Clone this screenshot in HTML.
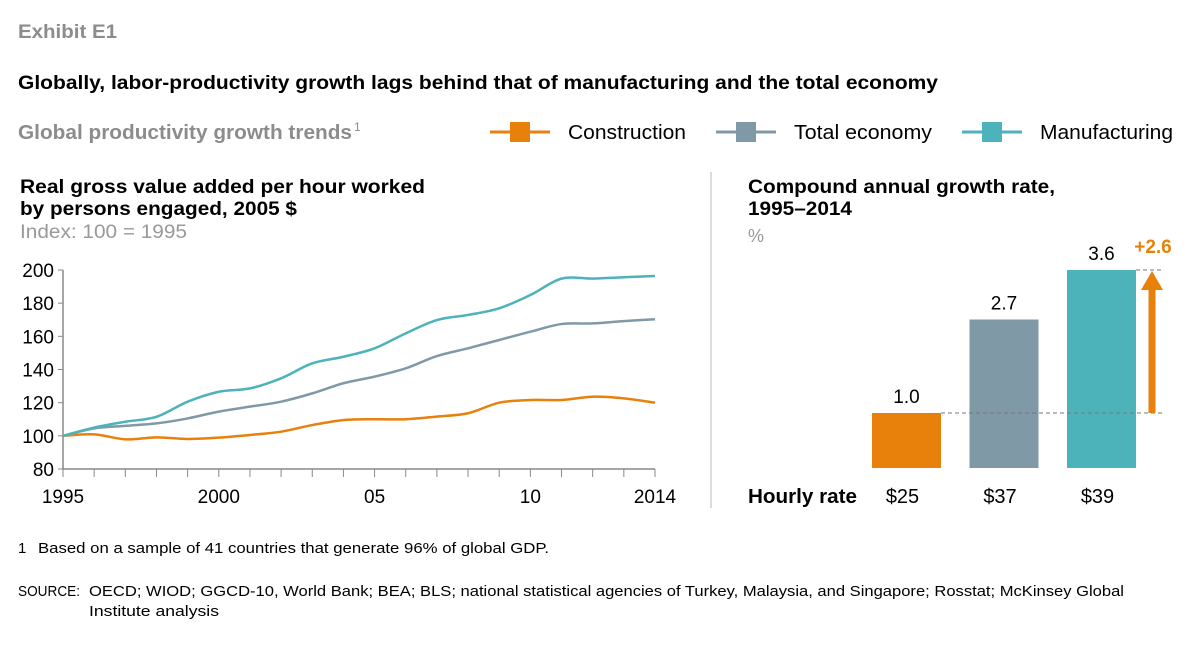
<!DOCTYPE html>
<html><head><meta charset="utf-8"><style>
body{margin:0;width:1200px;height:663px;background:#fff;font-family:"Liberation Sans",Arial,sans-serif;overflow:hidden}
svg text{font-family:"Liberation Sans",Arial,sans-serif}
</style></head><body>
<svg id="s" width="1200" height="663" viewBox="0 0 1200 663" xmlns="http://www.w3.org/2000/svg">
<text x="18" y="38" font-size="19" font-weight="bold" fill="#8c8c8c" textLength="99" lengthAdjust="spacingAndGlyphs">Exhibit E1</text>
<text x="18" y="89" font-size="19" font-weight="bold" fill="#000" textLength="920" lengthAdjust="spacingAndGlyphs">Globally, labor-productivity growth lags behind that of manufacturing and the total economy</text>
<text x="18" y="139" font-size="20" font-weight="bold" fill="#8c8c8c" textLength="334" lengthAdjust="spacingAndGlyphs">Global productivity growth trends</text>
<text x="354" y="131" font-size="12" fill="#8c8c8c">1</text>
<g>
<g><line x1="490" y1="132" x2="550" y2="132" stroke="#E8800C" stroke-width="3"/><rect x="510" y="122" width="20" height="20" fill="#E8800C"/><text x="568" y="139" font-size="20" fill="#000" textLength="118" lengthAdjust="spacingAndGlyphs">Construction</text></g>
<g><line x1="716" y1="132" x2="776" y2="132" stroke="#7F9AA6" stroke-width="3"/><rect x="736" y="122" width="20" height="20" fill="#7F9AA6"/><text x="794" y="139" font-size="20" fill="#000" textLength="138" lengthAdjust="spacingAndGlyphs">Total economy</text></g>
<g><line x1="962" y1="132" x2="1022" y2="132" stroke="#4DB3BB" stroke-width="3"/><rect x="982" y="122" width="20" height="20" fill="#4DB3BB"/><text x="1040" y="139" font-size="20" fill="#000" textLength="133" lengthAdjust="spacingAndGlyphs">Manufacturing</text></g>
</g>
<text x="20" y="193" font-size="19" font-weight="bold" textLength="405" lengthAdjust="spacingAndGlyphs">Real gross value added per hour worked</text>
<text x="20" y="215" font-size="19" font-weight="bold" textLength="277" lengthAdjust="spacingAndGlyphs">by persons engaged, 2005 $</text>
<text x="20" y="238" font-size="19" fill="#999" textLength="167" lengthAdjust="spacingAndGlyphs">Index: 100 = 1995</text>
<line x1="711" y1="172" x2="711" y2="508" stroke="#bbb" stroke-width="1"/>
<text x="748" y="193" font-size="19" font-weight="bold" textLength="307" lengthAdjust="spacingAndGlyphs">Compound annual growth rate,</text>
<text x="748" y="215" font-size="19" font-weight="bold" textLength="104" lengthAdjust="spacingAndGlyphs">1995–2014</text>
<text x="748" y="242" font-size="18" fill="#999">%</text>
<g id="lc"></g>
<g id="bc"></g>
<text x="18" y="553" font-size="15">1</text>
<text x="38" y="553" font-size="15" textLength="511" lengthAdjust="spacingAndGlyphs">Based on a sample of 41 countries that generate 96% of global GDP.</text>
<text x="18" y="596" font-size="15" textLength="62" lengthAdjust="spacingAndGlyphs">SOURCE:</text>
<text x="89" y="596" font-size="15" textLength="1035" lengthAdjust="spacingAndGlyphs">OECD; WIOD; GGCD-10, World Bank; BEA; BLS; national statistical agencies of Turkey, Malaysia, and Singapore; Rosstat; McKinsey Global</text>
<text x="89" y="616" font-size="15" textLength="130" lengthAdjust="spacingAndGlyphs">Institute analysis</text>
</svg>
<script>
const years=[1995,1996,1997,1998,1999,2000,2001,2002,2003,2004,2005,2006,2007,2008,2009,2010,2011,2012,2013,2014];
const manufacturing=[100,105,108.5,111.5,120.6,126.6,128.6,134.7,143.7,147.7,152.8,161.8,169.8,172.9,176.9,184.9,194.8,194.8,195.6,196.4];
const totalEconomy=[100,104.5,106,107.5,110.5,114.6,117.6,120.6,125.6,131.7,135.7,140.7,148.1,152.8,157.8,162.8,167.4,167.8,169.2,170.3];
const construction=[100,100.9,97.9,99.1,98.1,98.9,100.5,102.5,106.5,109.5,110,110,111.6,113.6,120,121.6,121.6,123.6,122.6,120];
const yTicks=[80,100,120,140,160,180,200];
const xLabels=[[1995,"1995"],[2000,"2000"],[2005,"05"],[2010,"10"],[2014,"2014"]];
const barCats=["Construction","Total economy","Manufacturing"];
const barVals=[1.0,2.7,3.6];
const barRates=["$25","$37","$39"];
const diffLabel="+2.6";
const NS="http://www.w3.org/2000/svg";
function mk(t,a,p){const e=document.createElementNS(NS,t);for(const k in a)e.setAttribute(k,a[k]);p.appendChild(e);return e;}
const lc=document.getElementById('lc'),bc=document.getElementById('bc');
const X=y=>63+(y-1995)*(655-63)/19, Y=v=>469-(v-80)*(469-270)/120;
let ax=mk('line',{x1:63,y1:270,x2:63,y2:469,stroke:'#888','stroke-width':1.5},lc);

let bx=mk('line',{x1:63,y1:469,x2:655,y2:469,stroke:'#888','stroke-width':1.5},lc);

yTicks.forEach(v=>{let t=mk('text',{x:54,y:Y(v)+7,'font-size':19,'text-anchor':'end'},lc);t.textContent=v;

mk('line',{x1:58,y1:Y(v),x2:63,y2:Y(v),stroke:'#888'},lc);});
years.forEach(y=>{let t=mk('line',{x1:X(y),y1:469,x2:X(y),y2:477,stroke:'#888'},lc);
});
xLabels.forEach(([y,l])=>{let t=mk('text',{x:X(y),y:503,'font-size':19,'text-anchor':'middle'},lc);t.textContent=l;
});
function smooth(pts){let d='M'+pts[0][0]+','+pts[0][1];for(let i=0;i<pts.length-1;i++){const p0=pts[Math.max(0,i-1)],p1=pts[i],p2=pts[i+1],p3=pts[Math.min(pts.length-1,i+2)];
const c1=[p1[0]+(p2[0]-p0[0])/6,p1[1]+(p2[1]-p0[1])/6],c2=[p2[0]-(p3[0]-p1[0])/6,p2[1]-(p3[1]-p1[1])/6];
d+=` C${c1[0]},${c1[1]} ${c2[0]},${c2[1]} ${p2[0]},${p2[1]}`;}return d;}
[[construction,'#E8800C','construction-line'],[totalEconomy,'#7F9AA6','total-economy-line'],[manufacturing,'#4DB3BB','manufacturing-line']].forEach(([d,c,n])=>{
let p=mk('path',{d:smooth(d.map((v,i)=>[X(years[i]),Y(v)])),fill:'none',stroke:c,'stroke-width':2.5,'stroke-linejoin':'round'},lc);
});
const colors=['#E8800C','#7F9AA6','#4DB3BB'];
const BY=v=>468-v*55, bw=69, bxs=i=>872+i*97.5;
barVals.forEach((v,i)=>{let r=mk('rect',{x:bxs(i),y:BY(v),width:bw,height:468-BY(v),fill:colors[i]},bc);

let t=mk('text',{x:bxs(i)+bw/2,y:BY(v)-10,'font-size':19,'text-anchor':'middle'},bc);t.textContent=v.toFixed(1);

let h=mk('text',{x:bxs(i)+bw/2-4,y:503,'font-size':20,'text-anchor':'middle'},bc);h.textContent=barRates[i];
});
let hr=mk('text',{x:748,y:503,'font-size':20,'font-weight':'bold',textLength:109,lengthAdjust:'spacingAndGlyphs'},bc);hr.textContent='Hourly rate';

const lo=BY(barVals[0]),hi=BY(barVals[2]),ar=1152;
let d1=mk('line',{x1:bxs(0)+bw,y1:lo,x2:1162,y2:lo,stroke:'#777','stroke-dasharray':'4,3'},bc);

let d2=mk('line',{x1:bxs(2)+bw,y1:hi,x2:1162,y2:hi,stroke:'#777','stroke-dasharray':'4,3'},bc);

let a=mk('rect',{x:ar-3.5,y:hi+18,width:7,height:lo-hi-18},bc);a.setAttribute('fill','#E8800C');

mk('polygon',{points:`${ar-11},${hi+20} ${ar+11},${hi+20} ${ar},${hi+1}`,fill:'#E8800C'},bc);
let dl=mk('text',{x:ar+1,y:hi-17,'font-size':19,'font-weight':'bold',fill:'#E8800C','text-anchor':'middle'},bc);dl.textContent=diffLabel;

</script>
</body></html>
